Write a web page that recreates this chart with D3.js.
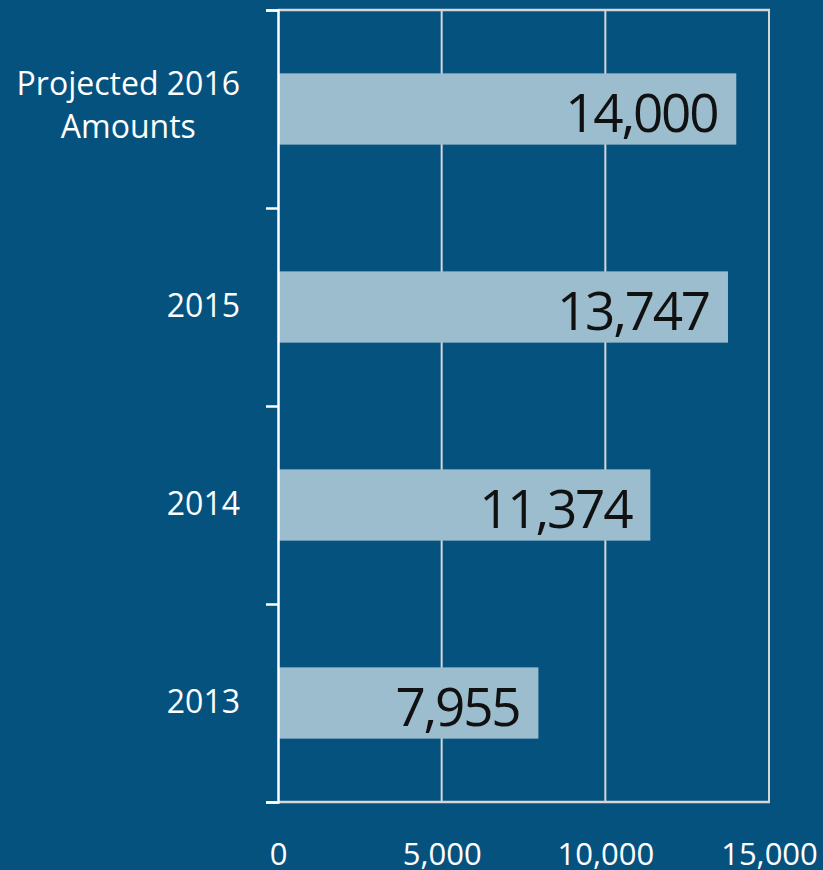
<!DOCTYPE html>
<html>
<head>
<meta charset="utf-8">
<script src="https://cdn.jsdelivr.net/npm/d3@7"></script>
<style>
  body { margin: 0; background: #06527f; }
  svg { display: block; }
</style>
</head>
<body>
<svg id="chart"></svg>
<script>
// data
const categories = [["Projected 2016", "Amounts"], ["2015"], ["2014"], ["2013"]];
const values = [14000, 13747, 11374, 7955];
const xTicks = [0, 5000, 10000, 15000];

const width = 823;
const height = 870;
const plotLeft = 278, plotRight = 769, plotTop = 10, plotBottom = 802;

const bg = "#06527f";
const barColor = "#9bbdce";
const gridColor = "#d4d6d8";

const svg = d3.select("#chart")
    .attr("width", width)
    .attr("height", height);

svg.append("rect")
   .attr("width", width)
   .attr("height", height)
   .attr("fill", bg);

const keys = categories.map(c => c.join(" "));

const xScale = d3.scaleLinear()
    .domain([0, 15000])
    .range([plotLeft, plotRight]);

const yScale = d3.scaleBand()
    .domain(keys)
    .range([plotTop, plotBottom])
    .paddingInner(0.64)
    .paddingOuter(0.32);

// index scale for the category boundary ticks
const yEdge = d3.scaleLinear()
    .domain([0, keys.length])
    .range([plotTop, plotBottom]);

// gridlines
svg.append("g")
   .selectAll("line")
   .data(xTicks.slice(1))
   .enter()
   .append("line")
   .attr("x1", d => xScale(d))
   .attr("x2", d => xScale(d))
   .attr("y1", plotTop)
   .attr("y2", plotBottom)
   .attr("stroke", gridColor)
   .attr("stroke-width", 2);

// top border + bottom axis line
svg.append("line")
   .attr("x1", plotLeft).attr("x2", plotRight + 1)
   .attr("y1", plotTop).attr("y2", plotTop)
   .attr("stroke", gridColor).attr("stroke-width", 2.5);

svg.append("line")
   .attr("x1", plotLeft).attr("x2", plotRight + 1)
   .attr("y1", plotBottom).attr("y2", plotBottom)
   .attr("stroke", gridColor).attr("stroke-width", 2.5);

// bars
svg.selectAll(".bar")
   .data(values)
   .enter()
   .append("rect")
   .attr("class", "bar")
   .attr("x", xScale(0))
   .attr("y", (d, i) => yScale(keys[i]))
   .attr("width", d => xScale(d) - xScale(0))
   .attr("height", yScale.bandwidth())
   .attr("fill", barColor);

// value labels
svg.selectAll(".val")
   .data(values)
   .enter()
   .append("text")
   .attr("class", "val")
   .attr("x", d => xScale(d) - 19)
   .attr("y", (d, i) => yScale(keys[i]) + yScale.bandwidth() / 2 + 23)
   .attr("text-anchor", "end")
   .attr("font-family", "'Open Sans', sans-serif")
   .attr("font-size", 53)
   .attr("letter-spacing", -2.2)
   .attr("fill", "#111")
   .text(d => d3.format(",")(d));

// left axis with ticks at the category boundaries
const yAxis = d3.axisLeft(yEdge)
    .tickValues(d3.range(keys.length + 1))
    .tickSize(12)
    .tickFormat("");

svg.append("g")
   .attr("id", "y-axis")
   .attr("transform", "translate(" + plotLeft + ",0)")
   .call(yAxis)
   .call(g => g.selectAll("line, path").attr("stroke", "#fff").attr("stroke-width", 2.5));

// category labels
const catLabels = svg.append("g")
   .selectAll("text")
   .data(categories)
   .enter()
   .append("text")
   .attr("font-family", "'Open Sans', sans-serif")
   .attr("font-size", 32)
   .attr("fill", "#fff");

catLabels.each(function(lines, i) {
    const t = d3.select(this);
    const cy = yScale(keys[i]) + yScale.bandwidth() / 2;
    if (lines.length === 1) {
        t.attr("x", 240).attr("y", cy + 10).attr("text-anchor", "end").text(lines[0]);
    } else {
        lines.forEach((s, j) => {
            t.append("tspan").attr("y", cy - 14 + j * 43).text(s);
        });
        let w = 0;
        t.selectAll("tspan").each(function() { w = Math.max(w, this.getComputedTextLength()); });
        t.attr("text-anchor", "middle");
        t.selectAll("tspan").attr("x", 240 - w / 2);
    }
});

// bottom axis labels
const xAxis = d3.axisBottom(xScale)
    .tickValues(xTicks)
    .tickSize(0)
    .tickPadding(0)
    .tickFormat(d3.format(","));

svg.append("g")
   .attr("id", "x-axis")
   .attr("transform", "translate(0," + plotBottom + ")")
   .call(xAxis)
   .call(g => g.select(".domain").remove())
   .call(g => g.selectAll("text")
       .attr("y", 63)
       .attr("dy", null)
       .attr("font-family", "'Open Sans', sans-serif")
       .attr("font-size", 31)
       .attr("fill", "#fff"));
</script>
</body>
</html>
